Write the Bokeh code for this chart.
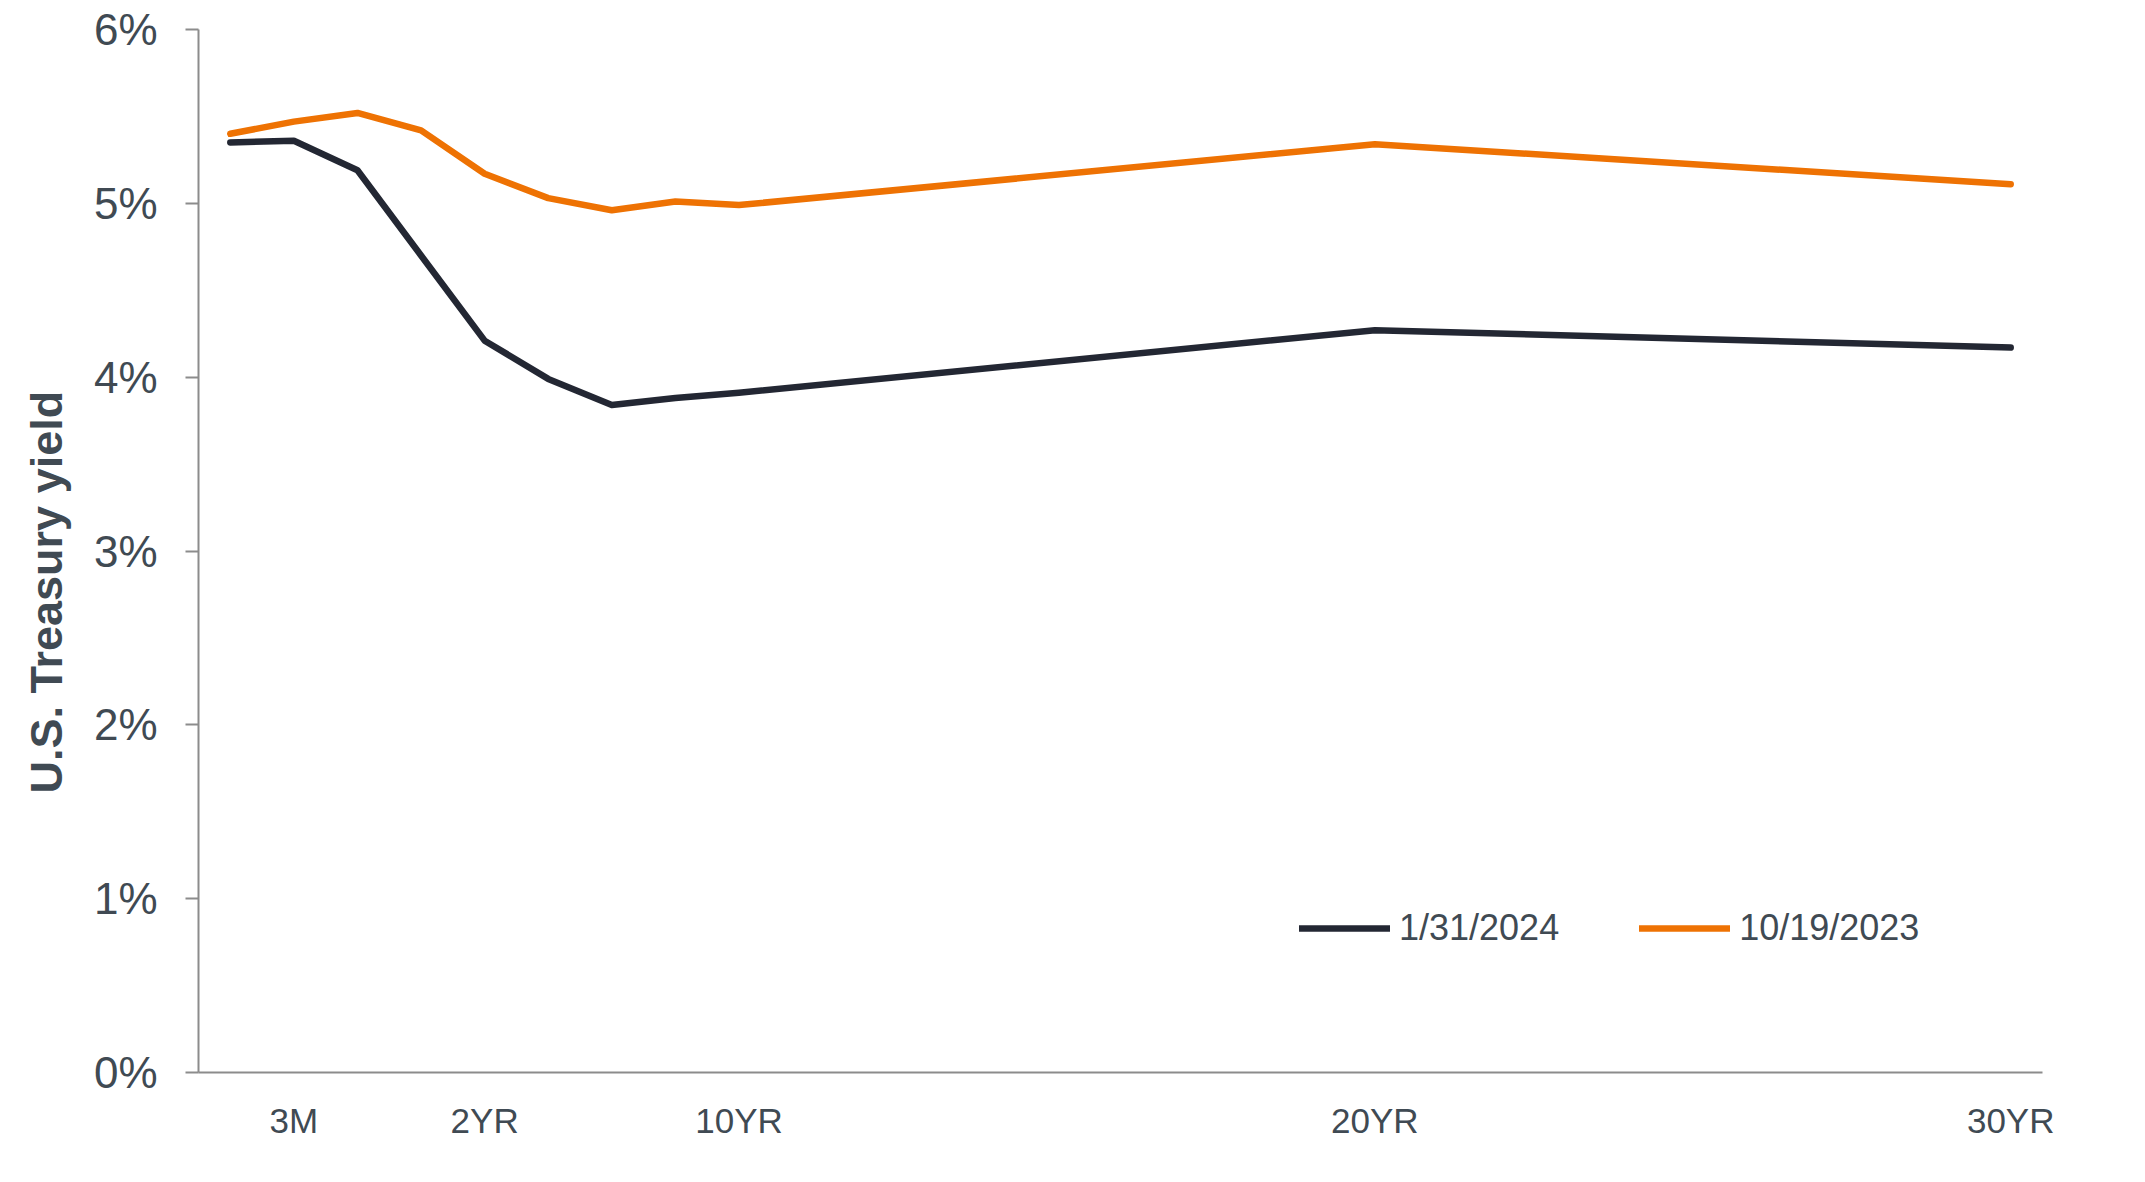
from bokeh.plotting import figure
from bokeh.models import (FixedTicker, PrintfTickFormatter, Legend, LegendItem,
                          Range1d, ColumnDataSource, Title)
from bokeh.embed import file_html
from bokeh.resources import INLINE

# ---- data ----
maturities = ["1M", "3M", "6M", "1YR", "2YR", "3YR", "5YR", "7YR", "10YR", "20YR", "30YR"]
# slot of each maturity on the original category axis (29 slots, 1M .. 30YR)
slots = [0, 1, 2, 3, 4, 5, 6, 7, 8, 18, 28]
yield_2024_01_31 = [5.35, 5.36, 5.19, 4.70, 4.21, 3.99, 3.84, 3.88, 3.91, 4.27, 4.17]
yield_2023_10_19 = [5.40, 5.47, 5.52, 5.42, 5.17, 5.03, 4.96, 5.01, 4.99, 5.34, 5.11]
tick_slots = [1, 4, 8, 18, 28]
tick_labels = ["3M", "2YR", "10YR", "20YR", "30YR"]
y_ticks = [0, 1, 2, 3, 4, 5, 6]
y_title = "U.S. Treasury yield"

FONT = "Liberation Sans"
TXT = "#404A53"
AXC = "#8C8C8C"
NAVY = "#232733"
ORANGE = "#EE7203"

W, H = 2129, 1166
p = figure(width=W, height=H, output_backend="svg", toolbar_location=None,
           x_range=Range1d(-0.5, 28.5), y_range=Range1d(0, 6),
           min_border_left=197, min_border_right=87,
           min_border_top=29, min_border_bottom=94)
p.outline_line_color = None
p.grid.visible = False
p.background_fill_color = "white"
p.border_fill_color = "white"

src = ColumnDataSource(dict(x=slots, a=yield_2024_01_31, b=yield_2023_10_19, m=maturities))
r1 = p.line("x", "a", source=src, line_color=NAVY, line_width=6.5,
            line_cap="round", line_join="round")
r2 = p.line("x", "b", source=src, line_color=ORANGE, line_width=6.5,
            line_cap="round", line_join="round")

# x axis
xa = p.xaxis[0]
xa.ticker = FixedTicker(ticks=tick_slots)
xa.major_label_overrides = {t: l for t, l in zip(tick_slots, tick_labels)}
xa.major_tick_in = 0
xa.major_tick_out = 0
xa.minor_tick_line_color = None
xa.axis_line_color = AXC
xa.axis_line_width = 2
xa.major_label_standoff = 28
xa.major_label_text_font = FONT
xa.major_label_text_font_size = "35px"
xa.major_label_text_color = TXT

# y axis
ya = p.yaxis[0]
ya.ticker = FixedTicker(ticks=y_ticks)
ya.formatter = PrintfTickFormatter(format="%d%%")
ya.major_tick_in = 0
ya.major_tick_out = 13
ya.major_tick_line_color = AXC
ya.major_tick_line_width = 2
ya.minor_tick_line_color = None
ya.axis_line_color = AXC
ya.axis_line_width = 2
ya.major_label_standoff = 28
ya.major_label_text_font = FONT
ya.major_label_text_font_size = "44px"
ya.major_label_text_color = TXT

# y-axis title as a side title; starts 279px above the frame bottom
ytitle = Title(text=y_title, align="left", offset=279, standoff=37,
               text_font=FONT, text_font_size="45px", text_font_style="bold",
               text_color=TXT)
p.add_layout(ytitle, "left")

legend = Legend(items=[LegendItem(label="1/31/2024", renderers=[r1]),
                       LegendItem(label="10/19/2023", renderers=[r2])],
                orientation="horizontal", location=(1101, 123),
                padding=0, margin=0, spacing=80,
                glyph_width=91, glyph_height=40, label_height=40,
                label_standoff=9,
                label_text_font=FONT, label_text_font_size="36px",
                label_text_color=TXT,
                background_fill_alpha=0, border_line_alpha=0)
p.add_layout(legend, "center")

open("out.html", "w").write(file_html(p, INLINE))
